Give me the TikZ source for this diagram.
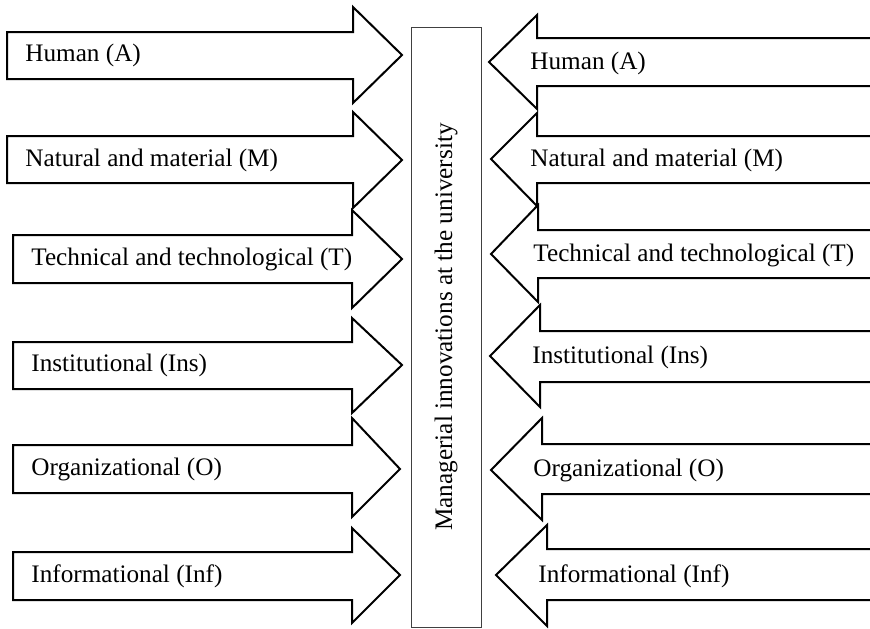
\documentclass[tikz,border=0pt]{standalone}
\usepackage{fontspec}
\setmainfont{Liberation Serif}
\usepackage{tikz}
\tikzstyle{shaft}    = [draw=black, line width=1pt, line join=miter, fill=white]
\tikzstyle{factor}   = [anchor=west, inner sep=0pt, font=\fontsize{12.6pt}{15pt}\selectfont]
\tikzstyle{innovbox} = [draw=black!75, line width=0.5pt, rotate=90, minimum width=300pt, minimum height=35pt, inner sep=0pt, font=\fontsize{12.6pt}{15pt}\selectfont]

\begin{document}
\begin{tikzpicture}[x=0.5pt, y=-0.5pt]
      \useasboundingbox (0,0) rectangle (870,628);

      \node (innov) [innovbox] at (446,327) {Managerial innovations at the university};

      % Resources flowing in from the left
      \draw [shaft] (7,32) -- (353,32) -- (353,7) -- (402,55) -- (353,103) -- (353,79) -- (7,79) -- cycle;
      \draw [shaft] (7,136) -- (353,136) -- (353,112) -- (402,160) -- (353,208) -- (353,183) -- (7,183) -- cycle;
      \draw [shaft] (13,235) -- (352,235) -- (352,210) -- (402,259) -- (352,308) -- (352,283) -- (13,283) -- cycle;
      \draw [shaft] (13,342) -- (352,342) -- (352,318) -- (402,365) -- (352,413) -- (352,389) -- (13,389) -- cycle;
      \draw [shaft] (13,445) -- (352,445) -- (352,418) -- (400,469) -- (352,517) -- (352,493) -- (13,493) -- cycle;
      \draw [shaft] (13,552) -- (352,552) -- (352,528) -- (400,575) -- (352,623) -- (352,600) -- (13,600) -- cycle;

      \node (L1) [factor] at (25,55)  {Human (A)};
      \node (L2) [factor] at (25,160) {Natural and material (M)};
      \node (L3) [factor] at (31,259) {Technical and technological (T)};
      \node (L4) [factor] at (31,365) {Institutional (Ins)};
      \node (L5) [factor] at (31,469) {Organizational (O)};
      \node (L6) [factor] at (31,576) {Informational (Inf)};

      % Resources flowing in from the right (run off the page)
      \draw [shaft] (870,38) -- (537,38) -- (537,15) -- (489,62) -- (537,109) -- (537,86) -- (870,86);
      \draw [shaft] (870,136) -- (537,136) -- (537,113) -- (491,159) -- (537,206) -- (537,183) -- (870,183);
      \draw [shaft] (870,230) -- (538,230) -- (538,205) -- (491,254) -- (538,302) -- (538,278) -- (870,278);
      \draw [shaft] (870,331) -- (540,331) -- (540,305) -- (490,356) -- (540,407) -- (540,382) -- (870,382);
      \draw [shaft] (870,444) -- (542,444) -- (542,418) -- (491,470) -- (542,520) -- (542,494) -- (870,494);
      \draw [shaft] (870,549) -- (547,549) -- (547,525) -- (496,575) -- (547,626) -- (547,600) -- (870,600);

      \node (R1) [factor] at (530,63)  {Human (A)};
      \node (R2) [factor] at (530,160) {Natural and material (M)};
      \node (R3) [factor] at (533,255) {Technical and technological (T)};
      \node (R4) [factor] at (532,357) {Institutional (Ins)};
      \node (R5) [factor] at (533,470) {Organizational (O)};
      \node (R6) [factor] at (538,576) {Informational (Inf)};
    \end{tikzpicture}
\end{document}
